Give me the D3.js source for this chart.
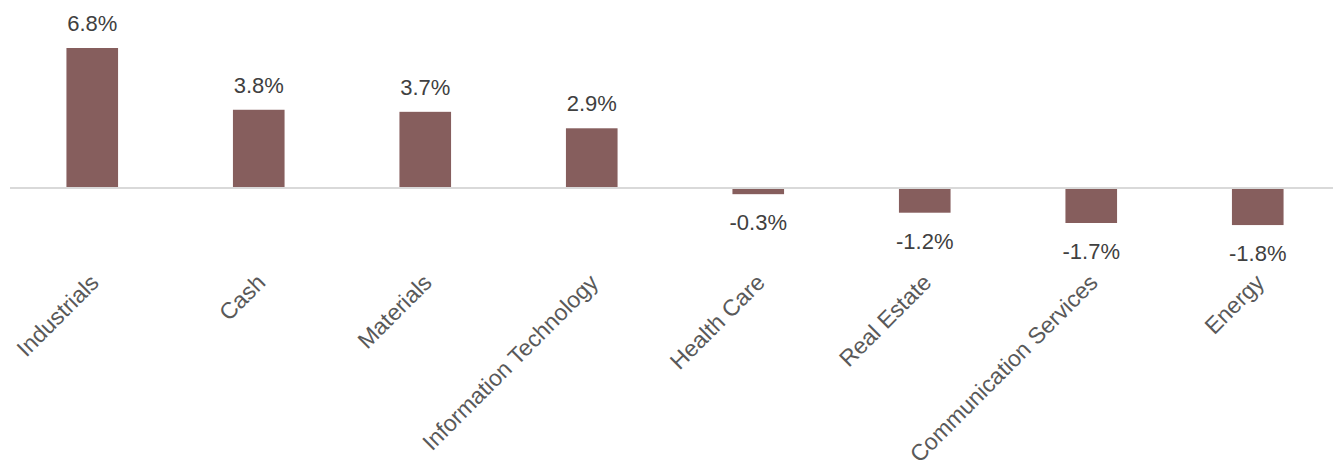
<!DOCTYPE html>
<html>
<head>
<meta charset="utf-8">
<script src="https://cdn.jsdelivr.net/npm/d3@7"></script>
<style>
  body { margin: 0; background: #fff; }
  svg { display: block; }
</style>
</head>
<body>
<svg width="1333" height="460"></svg>
<script>
let svg = d3.select("svg");

// donnees
let secteurs = ["Industrials", "Cash", "Materials", "Information Technology",
    "Health Care", "Real Estate", "Communication Services", "Energy"];
let valeurs = [6.8, 3.8, 3.7, 2.9, -0.3, -1.2, -1.7, -1.8];

let x = d3.scaleBand()
    .domain(secteurs)
    .range([9, 1341])
    .paddingInner(0.69)
    .paddingOuter(0.345);

let y = d3.scaleLinear()
    .domain([0, 6.8])
    .range([188, 48]);

// barres
svg.selectAll("rect.barre")
    .data(valeurs)
    .enter()
    .append("rect")
    .attr("class", "barre")
    .attr("x", (d, i) => x(secteurs[i]))
    .attr("width", x.bandwidth())
    .attr("y", d => Math.min(y(d), y(0)))
    .attr("height", d => Math.abs(y(d) - y(0)))
    .style("fill", "#865e5d");

// ligne du zero
svg.append("line")
    .attr("x1", 10)
    .attr("x2", 1333)
    .attr("y1", y(0))
    .attr("y2", y(0))
    .style("stroke", "#d9d9d9")
    .style("stroke-width", 2);

// etiquettes des valeurs
svg.selectAll("text.valeur")
    .data(valeurs)
    .enter()
    .append("text")
    .attr("class", "valeur")
    .attr("x", (d, i) => x(secteurs[i]) + x.bandwidth() / 2)
    .attr("y", d => d >= 0 ? y(d) - 17 : y(d) + 36)
    .attr("text-anchor", "middle")
    .style("font-family", "'Liberation Sans', Arial, sans-serif")
    .style("font-size", "22px")
    .style("fill", "#404040")
    .text(d => d.toFixed(1) + "%");

// categories, en diagonale
svg.selectAll("text.categorie")
    .data(secteurs)
    .enter()
    .append("text")
    .attr("class", "categorie")
    .attr("text-anchor", "end")
    .attr("transform", d => "translate(" + (x(d) + x.bandwidth() / 2 + 8) + ",284) rotate(-45)")
    .style("font-family", "'Liberation Sans', Arial, sans-serif")
    .style("font-size", "23px")
    .style("fill", "#595959")
    .text(d => d);
</script>
</body>
</html>
